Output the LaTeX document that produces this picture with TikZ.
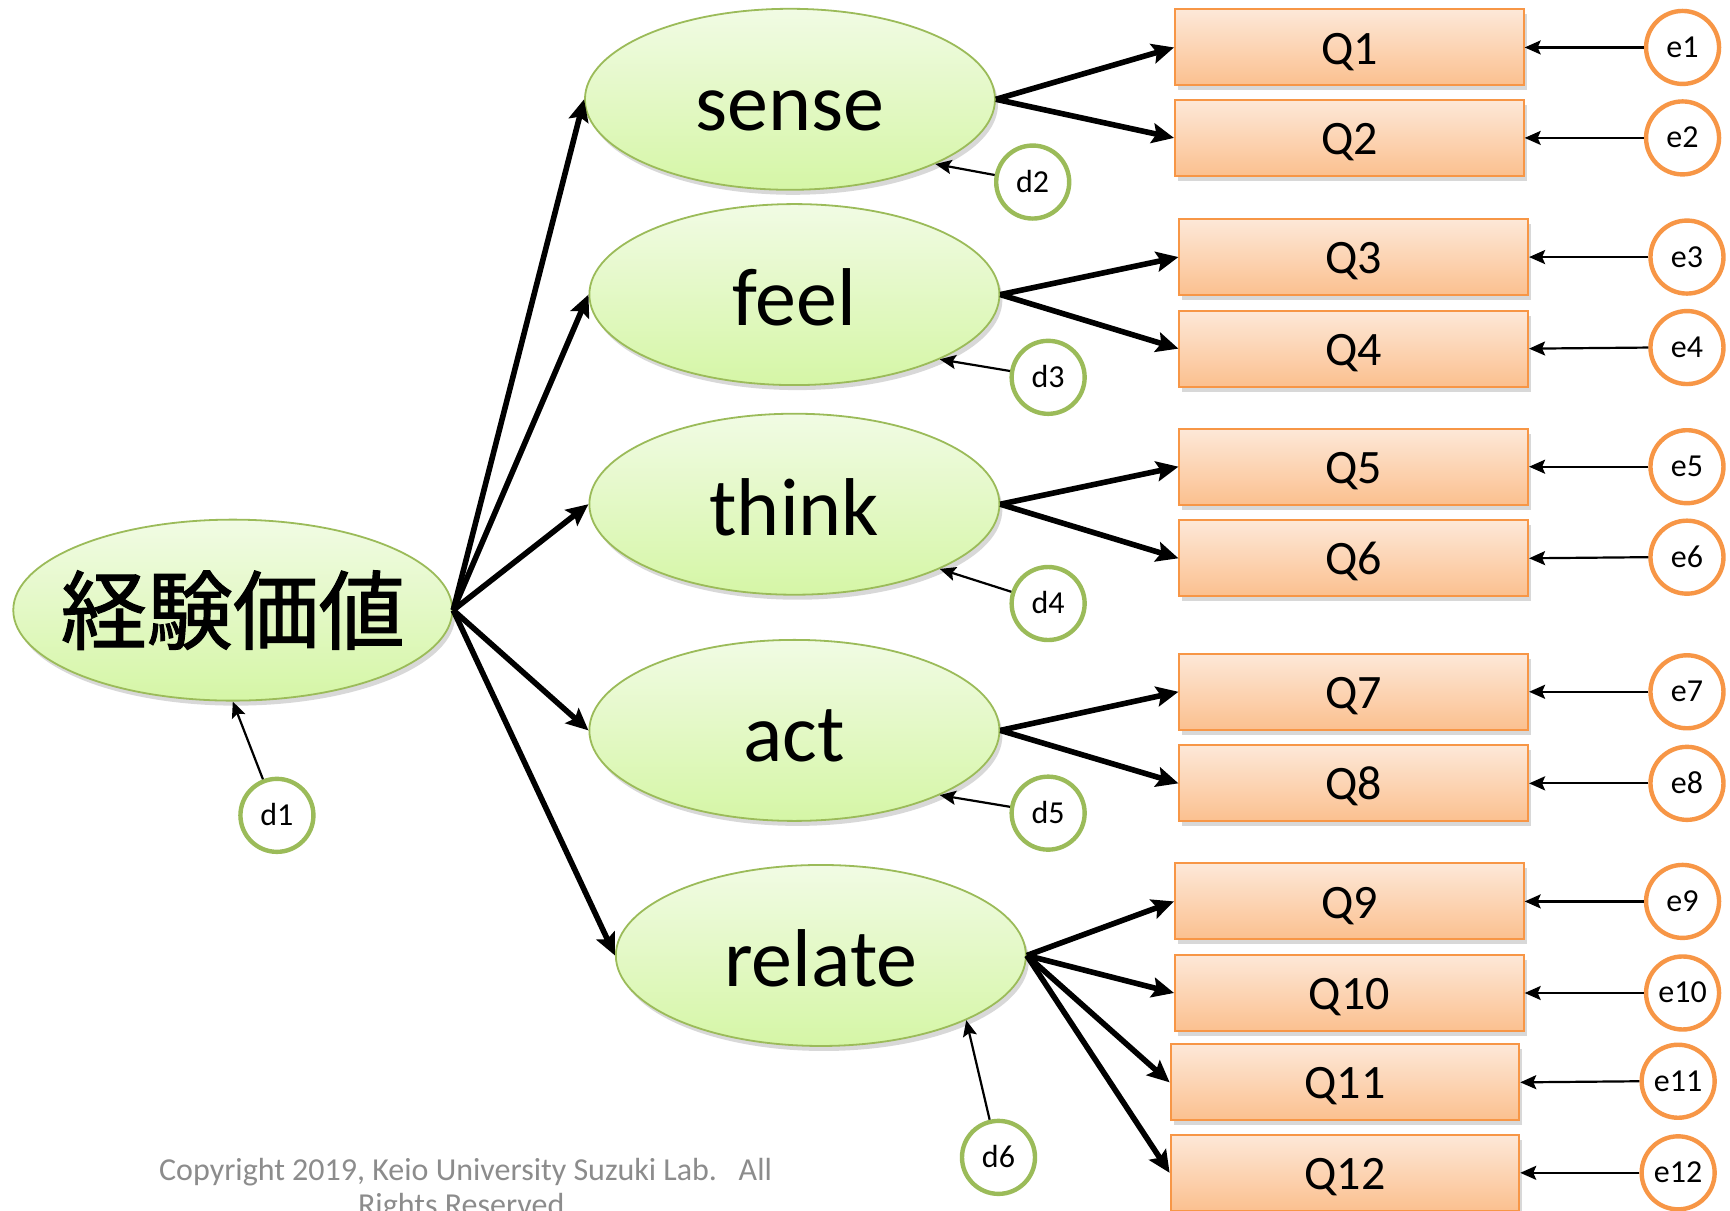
\documentclass[tikz,border=0pt]{standalone}
\usepackage{fontspec}
\setmainfont{Carlito}
\newfontfamily\cjk[FakeBold=1.3]{Noto Sans CJK JP}
\usetikzlibrary{shapes.geometric,arrows.meta,shadows}
\definecolor{grn}{HTML}{9BBB59}
\definecolor{org}{HTML}{F79646}
\definecolor{gtop}{HTML}{F1FBE4}
\definecolor{gbot}{HTML}{D5F6A6}
\definecolor{otop}{HTML}{FDE8D8}
\definecolor{obot}{HTML}{FBC08F}
\definecolor{cgray}{HTML}{8C8C8C}
\begin{document}
\begin{tikzpicture}[x=0.5516pt,y=-0.5516pt,
  shadowed/.style={drop shadow={shadow xshift=1.5pt,shadow yshift=-2.5pt,opacity=0.3,fill=black!50}},
  latent/.style={ellipse,draw=grn,line width=0.9pt,top color=gtop,bottom color=gbot,
    minimum width=205pt,minimum height=90.5pt,inner sep=0pt,
    text height=30.9pt,text depth=0pt,
    font=\fontsize{41}{48}\selectfont,shadowed},
  item/.style={rectangle,draw=org,line width=1pt,top color=otop,bottom color=obot,
    minimum width=174.3pt,minimum height=38pt,inner sep=0pt,
    text height=16.6pt,text depth=0pt,
    font=\fontsize{24}{28}\selectfont,shadowed},
  dist/.style={circle,draw=grn,line width=2.2pt,fill=white,minimum size=36.5pt,
    inner sep=0pt,text height=10pt,text depth=0pt,font=\fontsize{16}{19}\selectfont},
  err/.style={circle,draw=org,line width=2.2pt,fill=white,minimum size=36.5pt,
    inner sep=0pt,text height=10pt,text depth=0pt,font=\fontsize{16}{19}\selectfont},
  bigarrow/.style={line width=2.8pt,-{Stealth[length=11pt,width=10pt,inset=2pt]}},
  smallarrow/.style={line width=1.1pt,-{Stealth[length=8pt,width=7pt,inset=1.5pt]}},
  note/.style={font=\fontsize{16}{18}\selectfont,text=cgray,anchor=base,inner sep=0pt}
]
\useasboundingbox (0,0) rectangle (1568,1097.6);
\fill[white] (0,0) rectangle (1568,1097.6);

% latent variables
\node[latent,minimum width=219.5pt,text height=,text depth=,font=\fontsize{43}{50}\selectfont\cjk] (main) at (211,553) {\makebox[0pt]{経験価値}};
\node[latent] (sense)  at (716,90)  {\makebox[0pt]{sense}};
\node[latent] (feel)   at (720,267) {\makebox[0pt]{feel}};
\node[latent] (think)  at (720,457) {\makebox[0pt]{think}};
\node[latent] (act)    at (720,662) {\makebox[0pt]{act}};
\node[latent] (relate) at (744,866) {\makebox[0pt]{relate}};

% disturbances
\node[dist] (d1) at (251,739)  {d1};
\node[dist] (d2) at (936,165)  {d2};
\node[dist] (d3) at (950,342)  {d3};
\node[dist] (d4) at (950,547)  {d4};
\node[dist] (d5) at (950,737)  {d5};
\node[dist] (d6) at (905,1049) {d6};

% items
\node[item] (Q1)  at (1223,43)   {Q1};
\node[item] (Q2)  at (1223,125)  {Q2};
\node[item] (Q3)  at (1227,233)  {Q3};
\node[item] (Q4)  at (1227,316)  {Q4};
\node[item] (Q5)  at (1227,423)  {Q5};
\node[item] (Q6)  at (1227,506)  {Q6};
\node[item] (Q7)  at (1227,627)  {Q7};
\node[item] (Q8)  at (1227,710)  {Q8};
\node[item] (Q9)  at (1223,817)  {Q9};
\node[item] (Q10) at (1223,900)  {Q10};
\node[item] (Q11) at (1219,981)  {Q11};
\node[item] (Q12) at (1219,1063) {Q12};

% errors
\node[err] (e1)  at (1525,43)   {e1};
\node[err] (e2)  at (1525,125)  {e2};
\node[err] (e3)  at (1529,233)  {e3};
\node[err] (e4)  at (1529,315)  {e4};
\node[err] (e5)  at (1529,423)  {e5};
\node[err] (e6)  at (1529,505)  {e6};
\node[err] (e7)  at (1529,627)  {e7};
\node[err] (e8)  at (1529,710)  {e8};
\node[err] (e9)  at (1525,817)  {e9};
\node[err] (e10) at (1525,900)  {e10};
\node[err] (e11) at (1521,980)  {e11};
\node[err] (e12) at (1521,1063) {e12};

% second-order paths
\foreach \t in {sense,feel,think,act,relate}
  \draw[bigarrow] (main.east) -- (\t.west);

% first-order paths
\draw[bigarrow] (sense.east) -- (Q1.west);
\draw[bigarrow] (sense.east) -- (Q2.west);
\draw[bigarrow] (feel.east) -- (Q3.west);
\draw[bigarrow] (feel.east) -- (Q4.west);
\draw[bigarrow] (think.east) -- (Q5.west);
\draw[bigarrow] (think.east) -- (Q6.west);
\draw[bigarrow] (act.east) -- (Q7.west);
\draw[bigarrow] (act.east) -- (Q8.west);
\draw[bigarrow] (relate.east) -- (Q9.west);
\draw[bigarrow] (relate.east) -- (Q10.west);
\draw[bigarrow] (relate.east) -- (Q11.west);
\draw[bigarrow] (relate.east) -- (Q12.west);

% disturbance paths
\draw[smallarrow] (d1) -- (main.south);
\draw[smallarrow] (d2) -- (sense.-24);
\draw[smallarrow] (d3) -- (feel.-24);
\draw[smallarrow] (d4) -- (think.-24);
\draw[smallarrow] (d5) -- (act.-24);
\draw[smallarrow] (d6) -- (relate.-24);

% error paths
\foreach \i in {1,...,12}
  \draw[smallarrow] (e\i.west) -- (Q\i.east);

% copyright
\node[note] (copy1) at (422,1070) {Copyright 2019, Keio University Suzuki Lab.\ \ \ All};
\node[note] (copy2) at (418,1102) {Rights Reserved};
\end{tikzpicture}
\end{document}
